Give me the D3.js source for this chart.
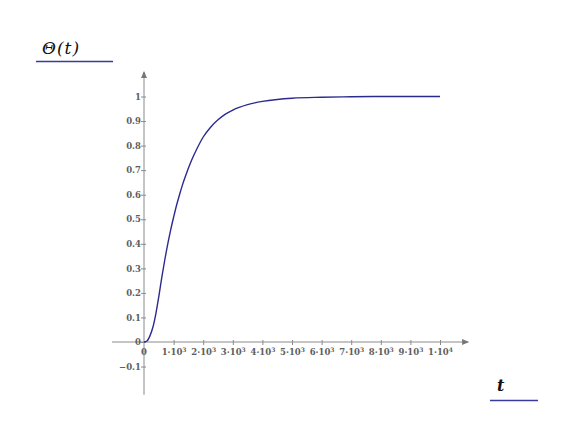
<!DOCTYPE html>
<html><head><meta charset="utf-8">
<script src="https://cdn.jsdelivr.net/npm/d3@7"></script>
<style>body{margin:0;background:#fff}svg{display:block}</style>
</head><body>
<script>
const tValues = [0,100,200,300,400,500,600,700,800,900,1000,1100,1200,1300,1400,1600,1800,2000,2250,2500,2750,3000,3500,4000,4500,5000,6000,7000,8000,9000,10000];
const thetaValues = [0,0.004,0.025,0.06,0.115,0.185,0.262,0.333,0.398,0.456,0.508,0.557,0.6,0.64,0.675,0.738,0.79,0.835,0.875,0.905,0.928,0.945,0.967,0.98,0.988,0.993,0.997,0.999,1.0,1.0,1.0];
const yTicks = [-0.1,0,0.1,0.2,0.3,0.4,0.5,0.6,0.7,0.8,0.9,1];
const yTickLabels = ["\u22120.1","0","0.1","0.2","0.3","0.4","0.5","0.6","0.7","0.8","0.9","1"];
const xTicks = [1000,2000,3000,4000,5000,6000,7000,8000,9000,10000];
const xTickMant = ["1","2","3","4","5","6","7","8","9","1"];
const xTickExp = ["3","3","3","3","3","3","3","3","3","4"];

const W=585,H=441;
const svg=d3.select("body").append("svg").attr("width",W).attr("height",H);
const x=d3.scaleLinear().domain([0,10000]).range([144,440]);
const y=d3.scaleLinear().domain([0,1]).range([342,96.5]);
const axisColor="#8a8a8a", labColor="#5e5e5e";
const font="'DejaVu Serif', serif";

// axes lines
svg.append("line").attr("x1",x(-1080)).attr("x2",x(10950)).attr("y1",y(0)).attr("y2",y(0)).attr("stroke",axisColor).attr("stroke-width",1);
svg.append("line").attr("x1",x(0)).attr("x2",x(0)).attr("y1",y(-0.215)).attr("y2",y(1.1)).attr("stroke",axisColor).attr("stroke-width",1);
// arrows
const ax=x(10950), ay=y(0);
svg.append("path").attr("d",`M${ax+1},${ay} L${ax-6},${ay-3} L${ax-6},${ay+3} Z`).attr("fill","#777");
const tx=x(0), ty=y(1.1);
svg.append("path").attr("d",`M${tx},${ty-1} L${tx-3},${ty+6} L${tx+3},${ty+6} Z`).attr("fill","#777");

// y ticks
const yAxis=d3.axisLeft(y).tickValues(yTicks).tickSize(0).tickFormat((d,i)=>yTickLabels[i]);
const gy=svg.append("g").attr("transform",`translate(${x(0)},0)`).call(yAxis);
gy.select(".domain").remove();
gy.selectAll("text").attr("x",-3).attr("fill",labColor).attr("font-family",font).attr("font-size",8.5).attr("font-weight","bold");
gy.selectAll(".tick").append("line").attr("x1",-3).attr("x2",2).attr("stroke",axisColor);

// x ticks
const xAxis=d3.axisBottom(x).tickValues(xTicks).tickSize(0).tickFormat("");
const gx=svg.append("g").attr("transform",`translate(0,${y(0)})`).call(xAxis);
gx.select(".domain").remove();
gx.selectAll(".tick").append("line").attr("y1",-2).attr("y2",3).attr("stroke",axisColor);
gx.selectAll(".tick text").remove();
gx.selectAll(".tick").each(function(d,i){
  const t=d3.select(this).append("text").attr("y",13).attr("text-anchor","middle").attr("fill",labColor).attr("font-family",font).attr("font-size",8.5).attr("font-weight","bold");
  t.append("tspan").text(xTickMant[i]+"\u00b710");
  t.append("tspan").attr("dy",-3).attr("font-size",6).text(xTickExp[i]);
});
// zero x label
svg.append("text").attr("x",x(0)).attr("y",y(0)+13).attr("text-anchor","middle").attr("fill",labColor).attr("font-family",font).attr("font-size",8.5).attr("font-weight","bold").text("0");

// curve
const line=d3.line().x((d,i)=>x(tValues[i])).y(d=>y(d)).curve(d3.curveMonotoneX);
svg.append("path").datum(thetaValues).attr("d",line).attr("fill","none").attr("stroke","#2b2b8f").attr("stroke-width",1.4);

// labels
svg.append("text").attr("x",42).attr("y",54).attr("font-family","'DejaVu Serif', serif").attr("font-style","italic").attr("font-size",17).attr("letter-spacing",1).attr("fill","#111").text("\u0398(t)");
svg.append("line").attr("x1",36).attr("x2",113).attr("y1",61.5).attr("y2",61.5).attr("stroke","#3a3a9a").attr("stroke-width",1.5);
svg.append("text").attr("x",497).attr("y",391).attr("font-family","'DejaVu Serif', serif").attr("font-style","italic").attr("font-weight","bold").attr("font-size",16).attr("fill","#111").text("t");
svg.append("line").attr("x1",490).attr("x2",538).attr("y1",400.5).attr("y2",400.5).attr("stroke","#3a3a9a").attr("stroke-width",1.5);
</script>
</body></html>
